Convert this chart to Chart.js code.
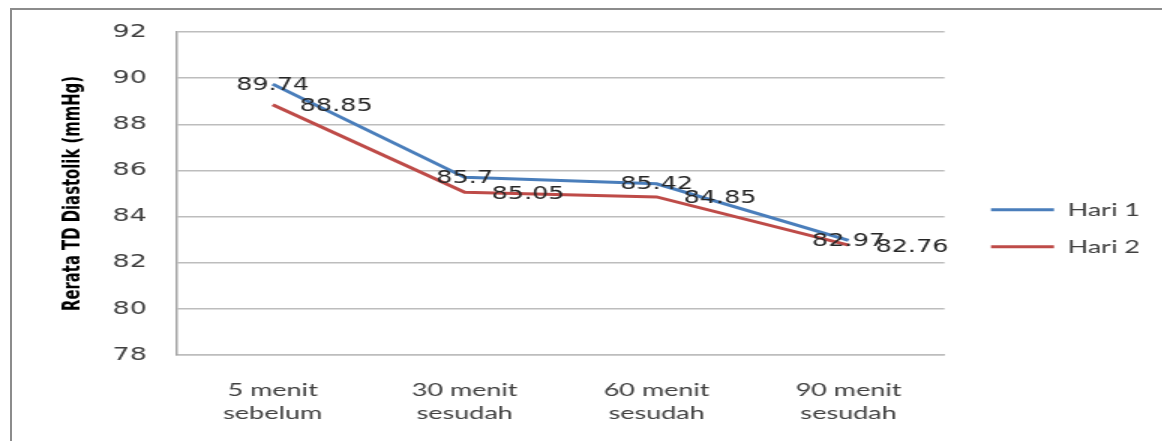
<!DOCTYPE html>
<html>
<head>
<meta charset="utf-8">
<script src="https://cdn.jsdelivr.net/npm/chart.js@4"></script>
<style>
  html, body { margin: 0; padding: 0; background: #fff; overflow: hidden; width: 1162px; height: 441px; }
  .frame { position: absolute; left: 10px; top: 8px; width: 1200px; height: 500px;
           border-top: 2px solid #8c8c8c; border-left: 2px solid #8c8c8c; }
  /* the source picture is stretched sideways, so the chart is drawn narrow and widened */
  #wrap { position: absolute; left: 0; top: 0; width: 775px; height: 441px;
          transform: scaleX(1.5); transform-origin: 0 0; }
</style>
</head>
<body>
<div class="frame"></div>
<div id="wrap"><canvas id="graph"></canvas></div>
<script>
let categories = [["5 menit", "sebelum"], ["30 menit", "sesudah"], ["60 menit", "sesudah"], ["90 menit", "sesudah"]];
let hari1 = [89.74, 85.7, 85.42, 82.97];
let hari2 = [88.85, 85.05, 84.85, 82.76];
let yTicks = [78, 80, 82, 84, 86, 88, 90, 92];

// value labels next to each point (Excel style)
const valueLabels = {
  id: "valueLabels",
  afterDatasetsDraw(chart) {
    const ctx = chart.ctx;
    ctx.save();
    ctx.font = '17px "DejaVu Sans"';
    ctx.fillStyle = "#262626";
    ctx.textBaseline = "middle";
    chart.data.datasets.forEach((ds, i) => {
      const meta = chart.getDatasetMeta(i);
      meta.data.forEach((pt, j) => {
        const txt = String(ds.data[j]);
        if (ds.labelSide === "right") {
          ctx.textAlign = "left";
          ctx.fillText(txt, pt.x + 18, pt.y + 2);
        } else {
          ctx.textAlign = "center";
          ctx.fillText(txt, pt.x, pt.y + 1);
        }
      });
    });
    ctx.restore();
  }
};

let mychart = new Chart(document.getElementById("graph"), {
  type: "line",
  data: {
    labels: categories,
    datasets: [
      {
        label: "Hari 1",
        data: hari1,
        borderColor: "#4a7ebb",
        backgroundColor: "#4a7ebb",
        borderWidth: 3,
        pointRadius: 0,
        tension: 0,
        labelSide: "center",
      },
      {
        label: "Hari 2",
        data: hari2,
        borderColor: "#be4b48",
        backgroundColor: "#be4b48",
        borderWidth: 3,
        pointRadius: 0,
        tension: 0,
        labelSide: "right",
      },
    ],
  },
  options: {
    responsive: true,
    maintainAspectRatio: false,
    animation: false,
    layout: { padding: { left: 25, top: 32, right: 10, bottom: 16.5 } },
    plugins: {
      tooltip: { enabled: false },
      legend: {
        position: "right",
        labels: {
          usePointStyle: true,
          pointStyle: "line",
          pointStyleWidth: 42,
          padding: 19,
          color: "#404040",
          font: { family: "Lato", size: 18 },
        },
      },
    },
    scales: {
      x: {
        offset: true,
        grid: { display: false, drawTicks: false },
        border: { color: "#bdbdbd", width: 1.5 },
        ticks: {
          color: "#404040",
          padding: 23.5,
          maxRotation: 0,
          font: { family: "Lato", size: 18, lineHeight: 1.28 },
        },
        afterFit(scale) {
          scale.height = 69.5;
        },
      },
      y: {
        min: 78,
        max: 92,
        afterBuildTicks(scale) {
          scale.ticks = yTicks.map((v) => ({ value: v }));
        },
        grid: { color: "#bdbdbd", lineWidth: 1.5, drawTicks: false },
        border: { color: "#a6a6a6", width: 1.5 },
        ticks: {
          color: "#404040",
          padding: 20,
          font: { family: "DejaVu Sans", size: 18 },
        },
        title: {
          display: true,
          text: "Rerata TD Diastolik (mmHg)",
          color: "#000000",
          padding: { top: 12, bottom: -6 },
          font: { family: "'Liberation Sans Narrow', 'DejaVu Sans Condensed'", size: 16.5, weight: "bold", lineHeight: 1.45 },
        },
      },
      gap: {
        position: "right",
        grid: { display: false },
        border: { display: false },
        ticks: { display: false },
        afterFit(scale) {
          scale.width = 12;
        },
      },
    },
  },
  plugins: [valueLabels],
});
</script>
</body>
</html>
